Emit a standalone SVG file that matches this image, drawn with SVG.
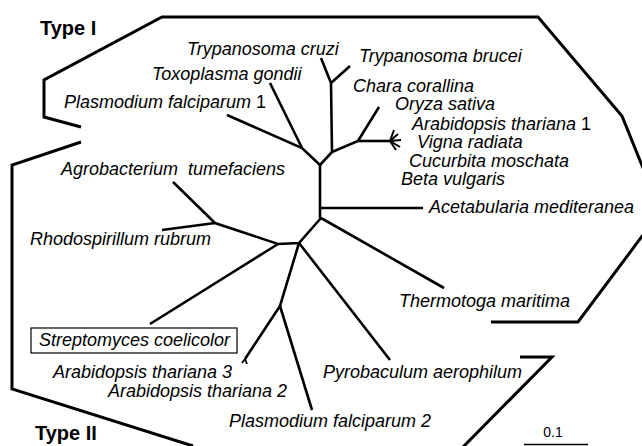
<svg xmlns="http://www.w3.org/2000/svg" width="642" height="446" viewBox="0 0 642 446">
<style>
.t{font-family:"Liberation Sans",Arial,sans-serif;font-size:18px;font-style:italic;fill:#000}
.n{font-style:normal}
.h{font-family:"Liberation Sans",Arial,sans-serif;font-size:20px;font-weight:bold;fill:#000}
.br{fill:none;stroke:#000;stroke-width:2.6;stroke-linecap:butt;stroke-linejoin:miter}
.bd{fill:none;stroke:#000;stroke-width:3}
</style>
<rect width="642" height="446" fill="#fff"/>
<g id="boundaries">
<polyline class="bd" points="81,127 44,117 44,80 162,17 538,17 622,116 643,168"/>
<polyline class="bd" points="81,142 12,165 12,389 193,446"/>
<polyline class="bd" points="643,235 578,322 491,322"/>
<polyline class="bd" points="520,357 552,357 463,447"/>
</g>
<g id="connectors">
<polyline class="br" points="320,165 320,218"/>
<polyline class="br" points="320,208 423,208"/>
<polyline class="br" points="320,165 302,148 227,115"/>
<polyline class="br" points="302,148 270,83"/>
<polyline class="br" points="320,165 332,152 331,83 321,58"/>
<polyline class="br" points="331,83 350,66"/>
<polyline class="br" points="332,152 358,141 379,107"/>
<polyline class="br" points="358,141 390,141"/>
<polyline class="br" points="390,141 394,130" style="stroke-width:2"/>
<polyline class="br" points="390,141 398,134" style="stroke-width:2"/>
<polyline class="br" points="390,141 401,140" style="stroke-width:2"/>
<polyline class="br" points="390,141 400,147" style="stroke-width:2"/>
<polyline class="br" points="390,141 396,150" style="stroke-width:2"/>
<polyline class="br" points="321,218 444,288"/>
<polyline class="br" points="321,218 299,243 278,244 215,223 173,182"/>
<polyline class="br" points="215,223 162,230"/>
<polyline class="br" points="278,244 150,324"/>
<polyline class="br" points="299,243 280,306 245,359"/>
<polyline class="br" points="245,359 242,363" style="stroke-width:1.8"/>
<polyline class="br" points="245,359 247,364" style="stroke-width:1.8"/>
<polyline class="br" points="280,306 312,410"/>
<polyline class="br" points="299,243 390,360"/>
<line x1="524" y1="444.5" x2="588" y2="444.5" stroke="#000" stroke-width="1.5"/>
</g>
<g id="labels">
<text class="h" x="40" y="35">Type I</text>
<text class="h" x="35" y="440">Type II</text>
<text class="t" x="187" y="55">Trypanosoma cruzi</text>
<text class="t" x="359" y="62">Trypanosoma brucei</text>
<text class="t" x="152" y="80">Toxoplasma gondii</text>
<text class="t" x="64" y="108">Plasmodium falciparum <tspan class="n">1</tspan></text>
<text class="t" x="353" y="92">Chara corallina</text>
<text class="t" x="395" y="110">Oryza sativa</text>
<text class="t" x="412" y="130">Arabidopsis thariana <tspan class="n">1</tspan></text>
<text class="t" x="417" y="148">Vigna radiata</text>
<text class="t" x="409" y="167">Cucurbita moschata</text>
<text class="t" x="401" y="185">Beta vulgaris</text>
<text class="t" x="429" y="213">Acetabularia mediteranea</text>
<text class="t" x="61" y="175" xml:space="preserve">Agrobacterium  tumefaciens</text>
<text class="t" x="30" y="245">Rhodospirillum rubrum</text>
<text class="t" x="399" y="307">Thermotoga maritima</text>
<g id="strepto">
<rect x="31" y="328" width="206" height="25" fill="none" stroke="#000" stroke-width="1.2"/>
<text class="t" x="39" y="346">Streptomyces coelicolor</text>
</g>
<text class="t" x="53" y="378">Arabidopsis thariana 3</text>
<text class="t" x="108" y="397">Arabidopsis thariana 2</text>
<text class="t" x="323" y="378">Pyrobaculum aerophilum</text>
<text class="t" x="229" y="427">Plasmodium falciparum 2</text>
<text x="553" y="437" text-anchor="middle" font-family="Liberation Sans, Arial, sans-serif" font-size="14">0.1</text>
</g>
</svg>
